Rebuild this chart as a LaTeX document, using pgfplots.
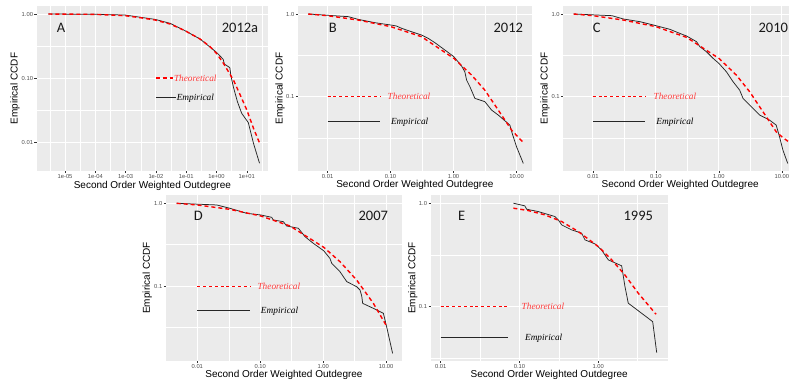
\documentclass[border=0pt]{standalone}
\usepackage{pgfplots}
\pgfplotsset{compat=1.18}
\usepackage{fontspec}
\setmainfont{Liberation Sans}
\newfontfamily\serifit{Liberation Serif}
\newfontfamily\calib{Carlito}
\definecolor{ggbg}{HTML}{EBEBEB}
\definecolor{ggtick}{HTML}{333333}
\definecolor{gglab}{HTML}{4D4D4D}
\definecolor{ggtxt}{HTML}{FF3B3B}
\definecolor{ggblack}{HTML}{262626}
\pgfplotsset{
 gg/.style={
  scale only axis,
  axis background/.style={fill=ggbg},
  axis x line*=bottom, axis y line*=left,
  axis line style={draw=none},
  tick align=outside, major tick length=2.2pt, minor tick length=0pt,
  tick style={color=ggtick, line width=0.5pt},
  xminorgrids=true, yminorgrids=true, xmajorgrids=true, ymajorgrids=true,
  major grid style={white, line width=0.9pt},
  minor grid style={white, line width=0.45pt},
  ticklabel style={font=\fontsize{5.8}{6}\selectfont, color=gglab},
  xticklabel style={inner sep=1pt},
  yticklabel style={inner sep=1.3pt},
  xlabel={Second Order Weighted Outdegree}, ylabel={Empirical CCDF},
  label style={font=\fontsize{7.3}{8}\selectfont},
  every axis x label/.style={at={(rel axis cs:0.5,0)}, anchor=north, yshift=-6.3pt},
 },
 yl/.style={every axis y label/.style={at={(rel axis cs:0,0.5)}, xshift=-#1, rotate=90, anchor=center}},
 emp/.style={draw=ggblack, line width=0.75pt, no marks},
 theo/.style={draw=red, line width=1.4pt, dash pattern=on 4pt off 3pt, no marks},
 legtheo/.style={draw=red, line width=0.7pt, dash pattern=on 3pt off 2.8pt, no marks},
 legemp/.style={draw=ggblack, line width=0.75pt, no marks},
}
\newcommand{\theotxt}{\serifit\itshape\fontsize{9.3}{10}\selectfont}
\newcommand{\lettxt}{\calib\fontsize{14.5}{15}\selectfont}
\begin{document}
\begin{tikzpicture}
\useasboundingbox (0,0) rectangle (789pt,381pt);
% ---------------- A ----------------
\begin{axis}[xmode=log, ymode=log, gg, yl=21.7pt, at={(36.7pt,210pt)}, anchor=south west, width=231.3pt, height=165pt,
  xmin=1.16e-6, xmax=50.1, ymin=0.00357, ymax=1.334,
  xtick={1e-5,1e-4,1e-3,1e-2,1e-1,1,10},
  xticklabels={1e-05,1e-04,1e-03,1e-02,1e-01,1e+00,1e+01},
  ytick={0.01,0.1,1}, yticklabels={0.01,0.10,1.00},
  minor xtick={3.162e-6,3.162e-5,3.162e-4,3.162e-3,0.03162,0.3162,3.162,31.62},
  minor ytick={0.03162,0.3162}]
\addplot[emp] coordinates {(2.82e-6,1.0) (9.77e-5,0.99) (9.55e-4,0.964) (9.33e-3,0.826) (2.95e-2,0.716) (0.0912,0.550) (0.288,0.407) (1.0,0.253) (1.66,0.197) (1.82,0.166) (2.75,0.146) (3.02,0.106) (3.63,0.0721) (4.90,0.0431) (6.76,0.0284) (11.2,0.0203) (16.6,0.00966) (26.3,0.00472)};
\addplot[theo] coordinates {(2.82e-6,1.0) (9.77e-5,0.989) (9.55e-4,0.942) (3.02e-3,0.877) (9.33e-3,0.807) (2.95e-2,0.698) (0.0912,0.550) (0.288,0.407) (0.617,0.309) (1.0,0.244) (1.70,0.170) (3.63,0.0933) (6.03,0.0550) (10.0,0.0320) (16.6,0.0166) (26.3,0.00977)};
\addplot[theo] coordinates {(0.01,0.1) (0.038,0.1)};
\addplot[legemp] coordinates {(0.01,0.0498) (0.047,0.0498)};
\node[anchor=base west, yshift=-3.1pt, inner sep=0pt, text=ggtxt, font=\theotxt] at (axis cs:0.039,0.1) {Theoretical};
\node[anchor=base west, yshift=-3.1pt, inner sep=0pt, text=black, font=\theotxt] at (axis cs:0.048,0.0498) {Empirical};
\end{axis}
% ---------------- B ----------------
\begin{axis}[xmode=log, ymode=log, gg, yl=18pt, at={(298pt,210.3pt)}, anchor=south west, width=233.7pt, height=164.7pt,
  xmin=0.00339, xmax=17.4, ymin=0.01274, ymax=1.25,
  xtick={0.01,0.1,1,10}, xticklabels={0.01,0.10,1.00,10.00},
  ytick={0.1,1}, yticklabels={0.1,1.0},
  minor xtick={0.03162,0.3162,3.162}, minor ytick={0.03162,0.3162}]
\addplot[emp] coordinates {(4.93e-3,1.0) (0.0213,0.929) (0.0307,0.861) (0.0564,0.785) (0.101,0.736) (0.124,0.716) (0.150,0.671) (0.215,0.611) (0.310,0.557) (0.396,0.508) (0.506,0.450) (0.728,0.367) (1.01,0.305) (1.34,0.235) (1.51,0.200) (1.61,0.159) (1.82,0.132) (2.18,0.0955) (3.14,0.0871) (4.01,0.0690) (5.12,0.0600) (7.83,0.0454) (8.53,0.0360) (10.0,0.0248) (12.8,0.0156)};
\addplot[theo] coordinates {(4.93e-3,1.0) (0.01,0.955) (0.0307,0.845) (0.101,0.703) (0.310,0.532) (1.01,0.291) (1.93,0.183) (3.14,0.120) (5.12,0.0690) (8.34,0.0395) (13.2,0.0272)};
\addplot[legtheo] coordinates {(0.01,0.1) (0.0678,0.1)};
\addplot[legemp] coordinates {(0.01,0.0508) (0.0678,0.0508)};
\node[anchor=base west, yshift=-3.1pt, inner sep=0pt, text=ggtxt, font=\theotxt] at (axis cs:0.0895,0.1) {Theoretical};
\node[anchor=base west, yshift=-3.1pt, inner sep=0pt, text=black, font=\theotxt] at (axis cs:0.101,0.0508) {Empirical};
\end{axis}
% ---------------- C ----------------
\begin{axis}[xmode=log, ymode=log, gg, yl=18.3pt, at={(563.3pt,210.3pt)}, anchor=south west, width=233.7pt, height=164.7pt,
  xmin=0.00339, xmax=17.4, ymin=0.01274, ymax=1.25,
  xtick={0.01,0.1,1,10}, xticklabels={0.01,0.10,1.00,10.00},
  ytick={0.1,1}, yticklabels={0.1,1.0},
  minor xtick={0.03162,0.3162,3.162}, minor ytick={0.03162,0.3162}]
\addplot[emp] coordinates {(4.94e-3,1.0) (0.0200,0.955) (0.0306,0.870) (0.0561,0.807) (0.1,0.723) (0.167,0.653) (0.226,0.594) (0.307,0.542) (0.442,0.463) (0.498,0.403) (0.635,0.350) (0.809,0.291) (1.0,0.253) (1.32,0.200) (1.68,0.152) (2.14,0.120) (2.42,0.0955) (3.08,0.0793) (4.43,0.0600) (6.37,0.0522) (8.13,0.0454) (9.18,0.0328) (10.4,0.0226) (12.4,0.0156)};
\addplot[theo] coordinates {(4.94e-3,1.0) (0.01,0.955) (0.0306,0.845) (0.1,0.703) (0.307,0.522) (1.0,0.291) (1.89,0.183) (3.08,0.115) (5.0,0.0659) (8.13,0.0377) (10.0,0.0328) (12.7,0.0286)};
\addplot[legtheo] coordinates {(0.01,0.1) (0.0678,0.1)};
\addplot[legemp] coordinates {(0.01,0.0508) (0.0678,0.0508)};
\node[anchor=base west, yshift=-3.1pt, inner sep=0pt, text=ggtxt, font=\theotxt] at (axis cs:0.0915,0.1) {Theoretical};
\node[anchor=base west, yshift=-3.1pt, inner sep=0pt, text=black, font=\theotxt] at (axis cs:0.101,0.0508) {Empirical};
\end{axis}
% ---------------- D ----------------
\begin{axis}[xmode=log, ymode=log, gg, yl=18.7pt, at={(166pt,20.3pt)}, anchor=south west, width=236pt, height=165.7pt,
  xmin=0.00318, xmax=17.9, ymin=0.0125, ymax=1.26,
  xtick={0.01,0.1,1,10}, xticklabels={0.01,0.10,1.00,10.00},
  ytick={0.1,1}, yticklabels={0.1,1.0},
  minor xtick={0.03162,0.3162,3.162}, minor ytick={0.03162,0.3162}]
\addplot[emp] coordinates {(4.69e-3,1.0) (0.0203,0.955) (0.0330,0.870) (0.0608,0.757) (0.102,0.723) (0.152,0.677) (0.161,0.629) (0.233,0.600) (0.263,0.532) (0.404,0.499) (0.515,0.395) (0.698,0.328) (1.02,0.267) (1.28,0.216) (1.37,0.188) (1.85,0.149) (2.37,0.113) (3.41,0.0981) (3.85,0.0895) (4.10,0.0757) (4.25,0.0617) (6.28,0.0537) (9.06,0.0467) (10.2,0.0322) (12.7,0.0153)};
\addplot[theo] coordinates {(4.69e-3,1.0) (0.01,0.955) (0.0330,0.845) (0.102,0.703) (0.297,0.532) (1.02,0.294) (1.85,0.197) (3.41,0.118) (6.28,0.0617) (9.98,0.0337)};
\addplot[legtheo] coordinates {(0.01,0.1) (0.0687,0.1)};
\addplot[legemp] coordinates {(0.01,0.0503) (0.0687,0.0503)};
\node[anchor=base west, yshift=-3.1pt, inner sep=0pt, text=ggtxt, font=\theotxt] at (axis cs:0.090,0.1) {Theoretical};
\node[anchor=base west, yshift=-3.1pt, inner sep=0pt, text=black, font=\theotxt] at (axis cs:0.102,0.0503) {Empirical};
\end{axis}
% ---------------- E ----------------
\begin{axis}[xmode=log, ymode=log, gg, yl=18pt, at={(430.7pt,20.3pt)}, anchor=south west, width=237pt, height=165.7pt,
  xmin=0.00747, xmax=7.60, ymin=0.030, ymax=1.20,
  xtick={0.01,0.1,1}, xticklabels={0.01,0.10,1.00},
  ytick={0.1,1}, yticklabels={0.1,1.0},
  minor xtick={0.03162,0.3162,3.162}, minor ytick={0.03162,0.3162}]
\addplot[emp] coordinates {(0.0836,1.0) (0.117,0.942) (0.123,0.875) (0.173,0.830) (0.282,0.743) (0.311,0.690) (0.343,0.617) (0.459,0.552) (0.615,0.513) (0.678,0.442) (0.908,0.404) (1.10,0.353) (1.34,0.283) (1.98,0.248) (2.18,0.156) (2.40,0.108) (4.90,0.0716) (5.51,0.0359)};
\addplot[theo] coordinates {(0.0836,0.895) (0.129,0.849) (0.210,0.771) (0.343,0.665) (0.557,0.532) (1.0,0.381) (1.48,0.283) (2.18,0.202) (3.21,0.135) (5.40,0.0844)};
\addplot[legtheo] coordinates {(0.01,0.1) (0.0721,0.1)};
\addplot[legemp] coordinates {(0.01,0.0501) (0.0721,0.0501)};
\node[anchor=base west, yshift=-3.1pt, inner sep=0pt, text=ggtxt, font=\theotxt] at (axis cs:0.106,0.1) {Theoretical};
\node[anchor=base west, yshift=-3.1pt, inner sep=0pt, text=black, font=\theotxt] at (axis cs:0.117,0.0501) {Empirical};
\end{axis}
% panel letters
\node[anchor=base, font=\lettxt, text=black!90] at (61pt,348.7pt) {A};
\node[anchor=base, font=\lettxt, text=black!90] at (240pt,348.7pt) {2012a};
\node[anchor=base, font=\lettxt, text=black!90] at (332.7pt,348.7pt) {B};
\node[anchor=base, font=\lettxt, text=black!90] at (508.3pt,348.7pt) {2012};
\node[anchor=base, font=\lettxt, text=black!90] at (596.7pt,348.7pt) {C};
\node[anchor=base, font=\lettxt, text=black!90] at (773.3pt,348.7pt) {2010};
\node[anchor=base, font=\lettxt, text=black!90] at (198.3pt,161pt) {D};
\node[anchor=base, font=\lettxt, text=black!90] at (373.3pt,161pt) {2007};
\node[anchor=base, font=\lettxt, text=black!90] at (461.7pt,161pt) {E};
\node[anchor=base, font=\lettxt, text=black!90] at (638.3pt,161pt) {1995};
\end{tikzpicture}
\end{document}
